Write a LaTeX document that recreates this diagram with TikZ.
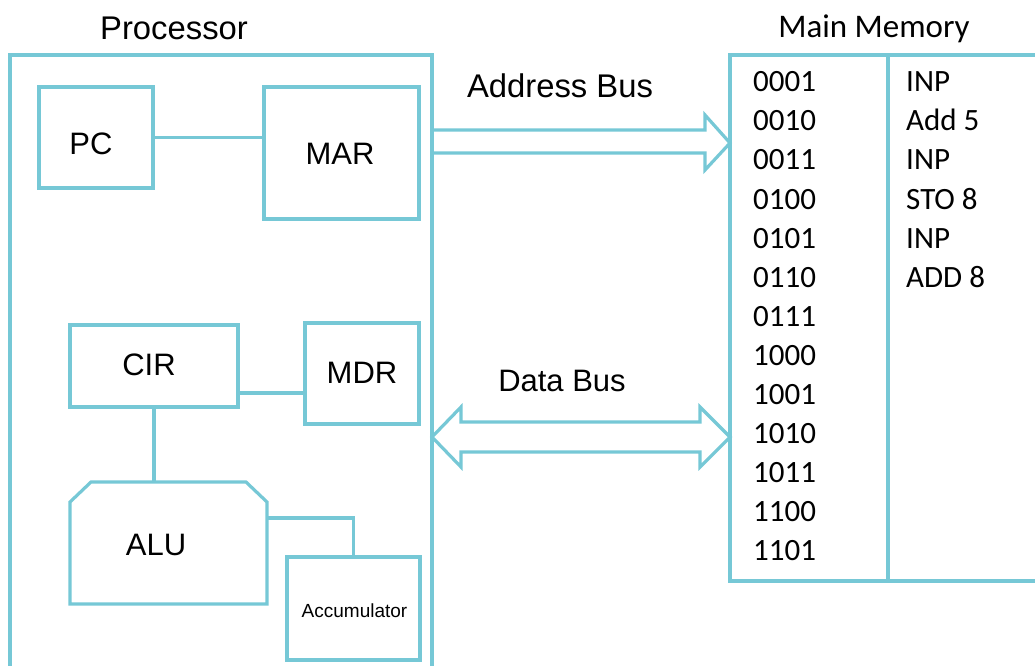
\documentclass[tikz,border=0pt]{standalone}
\usepackage{fontspec}
\setmainfont{Liberation Sans}
\newfontfamily\calfont{Carlito}
\usetikzlibrary{calc}
\definecolor{ln}{RGB}{118,200,214}
\begin{document}
\begin{tikzpicture}[x=1pt,y=-1pt,
  line/.style={draw=ln,line width=3.2pt},
  box/.style={rectangle,draw=ln,line width=3.2pt,inner sep=0pt,outer sep=0pt},
  lbl/.style={inner sep=0pt,font=\fontsize{31}{31}\selectfont,text=black},
  biglbl/.style={inner sep=0pt,font=\fontsize{32.8}{33}\selectfont,text=black},
  small/.style={inner sep=0pt,font=\fontsize{19}{19}\selectfont,text=black},
  memtxt/.style={inner sep=0pt,font=\calfont\fontsize{31}{31}\selectfont,text=black,anchor=base west}]
\useasboundingbox (0,0) rectangle (1035,665);
\clip (0,0) rectangle (1035,665);
\fill[white] (0,0) rectangle (1035,665);

% titles
\node[biglbl,anchor=base] (ptitle) at (174,39) {Processor};
\node[lbl,anchor=base,font=\calfont\fontsize{33}{33}\selectfont] (mtitle) at (874,37) {Main Memory};

% processor frame
\coordinate (pbl) at (10,670);
\coordinate (pbr) at (432,670);
\draw[line] (pbl) -- (10,55) -- (432,55) -- (pbr);

% registers
\node[box,minimum width=114pt,minimum height=101pt] (pc) at (96,137.5) {};
\node[lbl,anchor=base] (pct) at (91,154) {PC};
\node[box,minimum width=155pt,minimum height=132pt] (mar) at (341.5,153) {};
\node[lbl,anchor=base] (mart) at (340,164) {MAR};
\node[box,minimum width=168pt,minimum height=82pt] (cir) at (154,366) {};
\node[lbl,anchor=base] (cirt) at (149,375) {CIR};
\node[box,minimum width=114pt,minimum height=101pt] (mdr) at (362,373.5) {};
\node[lbl,anchor=base] (mdrt) at (362,383) {MDR};
\node[box,minimum width=133pt,minimum height=103pt] (acc) at (353.5,608.5) {};
\node[small,anchor=base] (acct) at (354.5,617) {Accumulator};

% ALU (chamfered top corners)
\coordinate (alutop) at (168,482);
\coordinate (aluright) at (267,518);
\draw[line,line join=miter] (70,604) -- (70,502) -- (91,482) -- (246,482) -- (267,502) -- (267,604) -- cycle;
\node[lbl,anchor=base] (alu) at (156,555) {ALU};

% internal connectors
\draw[line] (pc.east) -- (pc.east -| mar.west);
\coordinate (cirr) at ($(cir.south east)+(0,-14)$);
\draw[line] (cirr) -- (cirr -| mdr.west);
\draw[line] (cir.south) -- (cir.south |- alutop);
\draw[line] (aluright) -| (acc.north);

% memory
\node[box,minimum width=158pt,minimum height=526pt] (mem) at (809,318) {};
\draw[line] (mem.north east) -- (1045,55);
\draw[line] (mem.south east) -- (1045,581);
\foreach \a [count=\i from 0] in {0001,0010,0011,0100,0101,0110,0111,1000,1001,1010,1011,1100,1101}
  \node[memtxt] (a\i) at (753,91.7+39.1*\i) {\a};
\foreach \b [count=\i from 0] in {INP,Add 5,INP,STO 8,INP,ADD 8}
  \node[memtxt] (b\i) at (906,91.7+39.1*\i) {\b};

% buses
\node[biglbl,anchor=base] (abus) at (560,97) {Address Bus};
\node[lbl,anchor=base] (dbus) at (562,391) {Data Bus};
\coordinate (abl) at (432,130);
\draw[line,line join=miter] (abl) -- (705,130) -- (705,115) -- (mem.west |- 0,143) -- (705,170) -- (705,153) -- (432,153);
\draw[line,line join=miter] (461,422) -- (700,422) -- (700,407) -- (mem.west |- 0,437) -- (700,467) -- (700,452) -- (461,452) -- (461,467) -- (432,437) -- (461,407) -- cycle;
\end{tikzpicture}
\end{document}
